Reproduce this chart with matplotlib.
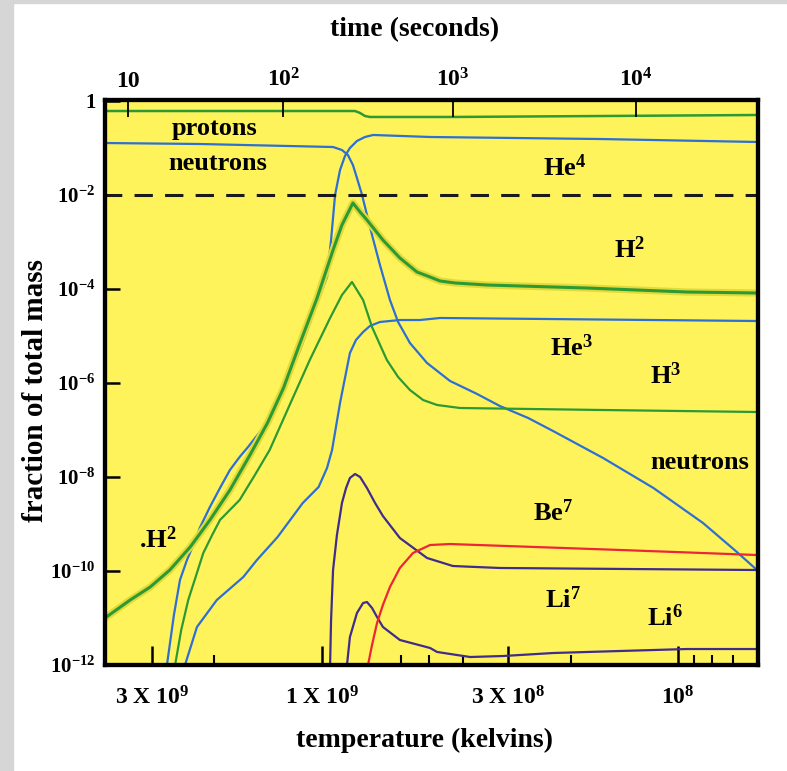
import matplotlib
matplotlib.use("Agg")
import matplotlib.pyplot as plt
import matplotlib.patheffects as pe
from matplotlib.patches import Rectangle
from matplotlib.ticker import FixedLocator, NullFormatter, NullLocator
import numpy as np

plt.rcParams['font.family'] = ['Liberation Serif', 'DejaVu Serif']
plt.rcParams['font.weight'] = 'bold'
plt.rcParams['mathtext.fontset'] = 'custom'
plt.rcParams['mathtext.rm'] = 'Liberation Serif:bold'
plt.rcParams['mathtext.it'] = 'Liberation Serif:bold'
plt.rcParams['mathtext.bf'] = 'Liberation Serif:bold'
plt.rcParams['mathtext.default'] = 'rm'

# temperature in units of 10^9 K, mass fraction as log10
protons_T = [4.06, 0.806, 0.780, 0.756, 0.732, 0.428, 0.0599]
protons_x = [-0.213, -0.213, -0.255, -0.319, -0.340, -0.340, -0.298]

neutrons_T = [4.06, 2.20, 0.929, 0.877, 0.844, 0.817, 0.796, 0.770, 0.746, 0.722,
              0.686, 0.643, 0.610, 0.565, 0.506, 0.436, 0.366, 0.316, 0.263, 0.224,
              0.162, 0.117, 0.0849, 0.0682, 0.0599]
neutrons_x = [-0.894, -0.915, -0.979, -1.043, -1.149, -1.362, -1.638, -2.0, -2.426, -2.851,
              -3.489, -4.234, -4.702, -5.149, -5.574, -5.957, -6.234, -6.489, -6.745, -7.021,
              -7.596, -8.234, -8.979, -9.596, -9.979]

he4_T = [2.79, 2.72, 2.60, 2.50, 2.39, 2.28, 2.20, 2.06, 1.93, 1.81, 1.70, 1.61, 1.53,
         1.46, 1.31, 1.15, 1.03, 0.966, 0.941, 0.917, 0.888, 0.860, 0.833, 0.796, 0.756,
         0.717, 0.496, 0.165, 0.0599]
he4_x = [-12.53, -12.0, -10.936, -10.191, -9.766, -9.404, -9.085, -8.638, -8.234, -7.851,
         -7.574, -7.362, -7.149, -6.957, -6.298, -5.298, -4.298, -3.745, -2.957, -2.0,
         -1.468, -1.170, -1.0, -0.851, -0.766, -0.723, -0.766, -0.809, -0.872]

h2_T = [4.06, 3.45, 3.03, 2.67, 2.34, 2.06, 1.81, 1.59, 1.42, 1.28, 1.15, 1.03, 0.929,
        0.877, 0.817, 0.780, 0.746, 0.673, 0.603, 0.540, 0.496, 0.465, 0.422, 0.343,
        0.180, 0.0942, 0.0599]
h2_x = [-11.0, -10.617, -10.340, -9.979, -9.489, -8.915, -8.277, -7.532, -6.851, -6.106,
        -5.149, -4.191, -3.170, -2.638, -2.170, -2.362, -2.532, -2.957, -3.340, -3.638,
        -3.745, -3.830, -3.872, -3.915, -3.979, -4.064, -4.085]

he3_T = [2.45, 2.42, 2.24, 1.97, 1.66, 1.52, 1.33, 1.13, 1.02, 0.966, 0.935, 0.888,
         0.833, 0.801, 0.765, 0.732, 0.686, 0.603, 0.530, 0.465, 0.0599]
he3_x = [-12.53, -12.0, -11.191, -10.617, -10.128, -9.766, -9.277, -8.553, -8.213, -7.809,
         -7.426, -6.426, -5.362, -5.085, -4.915, -4.787, -4.702, -4.660, -4.660, -4.617,
         -4.681]

h3_T = [2.63, 2.58, 2.48, 2.37, 2.25, 2.15, 2.03, 1.93, 1.70, 1.54, 1.40, 1.23, 1.08,
        0.947, 0.877, 0.822, 0.765, 0.722, 0.656, 0.610, 0.565, 0.519, 0.474, 0.409,
        0.165, 0.0599]
h3_x = [-12.53, -12.0, -11.255, -10.617, -10.085, -9.617, -9.234, -8.915, -8.489, -7.957,
        -7.426, -6.468, -5.511, -4.617, -4.128, -3.851, -4.234, -4.809, -5.511, -5.872,
        -6.149, -6.362, -6.468, -6.532, -6.574, -6.617]

li7_T = [0.954, 0.947, 0.941, 0.929, 0.906, 0.877, 0.854, 0.833, 0.806, 0.780, 0.746,
         0.708, 0.673, 0.603, 0.506, 0.428, 0.316, 0.0599]
li7_x = [-12.74, -12.0, -11.043, -9.979, -9.234, -8.553, -8.234, -8.021, -7.936, -8.0,
         -8.234, -8.553, -8.830, -9.298, -9.723, -9.894, -9.936, -9.979]

li6_T = [0.854, 0.849, 0.833, 0.796, 0.765, 0.746, 0.722, 0.699, 0.673, 0.603, 0.496,
         0.474, 0.383, 0.310, 0.224, 0.145, 0.0942, 0.0599]
li6_x = [-12.74, -12.0, -11.404, -10.894, -10.681, -10.660, -10.787, -10.979, -11.191,
         -11.468, -11.638, -11.723, -11.830, -11.809, -11.745, -11.702, -11.660, -11.660]

be7_T = [0.746, 0.741, 0.722, 0.699, 0.673, 0.643, 0.603, 0.554, 0.496, 0.436, 0.145, 0.0599]
be7_x = [-12.53, -12.0, -11.574, -11.106, -10.723, -10.340, -9.936, -9.617, -9.447,
         -9.426, -9.553, -9.660]

temp_ticks = [3, 1, 0.3, 0.1]
temp_labels = ['3 X 10$^{9}$', '1 X 10$^{9}$', '3 X 10$^{8}$', '10$^{8}$']
temp_minor = [2, 0.6, 0.5, 0.4, 0.2, 0.09, 0.08, 0.07]
time_ticks_T = [3.50, 1.28, 0.428, 0.131]
time_labels = ['10', '10$^{2}$', '10$^{3}$', '10$^{4}$']
frac_ticks = [1, 1e-2, 1e-4, 1e-6, 1e-8, 1e-10, 1e-12]
frac_labels = ['1', '10$^{-2}$', '10$^{-4}$', '10$^{-6}$', '10$^{-8}$', '10$^{-10}$', '10$^{-12}$']

GREEN = '#2c9a34'
BLUE = '#2d6fd2'
PURPLE = '#402c8c'
RED = '#ec2638'
YELLOW = '#fff35c'

fig = plt.figure(figsize=(7.87, 7.71), dpi=100)
fig.patches.append(Rectangle((0, 0), 13 / 787, 1, transform=fig.transFigure,
                             color='#d6d6d6', zorder=-5))
fig.patches.append(Rectangle((0, 1 - 3 / 771), 1, 3 / 771, transform=fig.transFigure,
                             color='#d6d6d6', zorder=-5))

ax = fig.add_axes([105 / 787, 1 - 665 / 771, 653 / 787, 565 / 771])
ax.set_facecolor(YELLOW)
ax.set_xscale('log')
ax.set_yscale('log')

def draw(T, lx, color, lw=1.6, halo=False):
    line, = ax.plot(T, 10 ** np.array(lx), color=color, lw=lw, solid_joinstyle='round')
    if halo:
        line.set_path_effects([pe.Stroke(linewidth=lw + 3, foreground='#e2da3a'), pe.Normal()])

draw(protons_T, protons_x, GREEN, 1.8)
draw(neutrons_T, neutrons_x, BLUE)
draw(he4_T, he4_x, BLUE)
draw(he3_T, he3_x, BLUE)
draw(h3_T, h3_x, GREEN)
draw(h2_T, h2_x, GREEN, 2.2, halo=True)
draw(li7_T, li7_x, PURPLE)
draw(li6_T, li6_x, PURPLE)
draw(be7_T, be7_x, RED)

ax.axhline(1e-2, color='#1a1a1a', lw=2.2, ls=(0.5, (6, 4)))

ax.set_xlim(4.06, 0.0595)
ax.set_ylim(1e-12, 1.05)

ax.xaxis.set_major_locator(FixedLocator(temp_ticks))
ax.set_xticklabels(temp_labels)
ax.xaxis.set_minor_locator(FixedLocator(temp_minor))
ax.xaxis.set_minor_formatter(NullFormatter())
ax.yaxis.set_major_locator(FixedLocator(frac_ticks))
ax.set_yticklabels(frac_labels)
ax.yaxis.set_minor_locator(NullLocator())

ax.tick_params(axis='x', which='major', direction='in', length=14, width=1.8,
               labelsize=17, pad=15, top=False)
ax.tick_params(axis='x', which='minor', direction='in', length=7, width=1.5, top=False)
ax.tick_params(axis='y', which='major', direction='in', length=11, width=1.8,
               labelsize=15, pad=7, right=False)
for s in ax.spines.values():
    s.set_linewidth(3)

ax2 = ax.twiny()
ax2.set_xscale('log')
ax2.set_xlim(ax.get_xlim())
ax2.xaxis.set_major_locator(FixedLocator(time_ticks_T))
ax2.set_xticklabels(time_labels)
ax2.xaxis.set_minor_locator(NullLocator())
ax2.tick_params(axis='x', direction='in', length=12, width=1.3, labelsize=17, pad=6)
for s in ax2.spines.values():
    s.set_linewidth(3)

fig.text(415 / 787, 1 - 30 / 771, 'time (seconds)', ha='center', va='center', fontsize=20)
fig.text(425 / 787, 1 - 740 / 771, 'temperature (kelvins)', ha='center', va='center',
         fontsize=20)
fig.text(36 / 787, 1 - 390 / 771, 'fraction of total mass', ha='center', va='center',
         rotation=90, fontsize=21)

labels = [
    ('protons', 0.168, 0.950),
    ('neutrons', 0.172, 0.888),
    ('He$^{4}$', 0.704, 0.880),
    ('H$^{2}$', 0.804, 0.735),
    ('He$^{3}$', 0.715, 0.561),
    ('H$^{3}$', 0.858, 0.513),
    ('neutrons', 0.911, 0.359),
    ('Be$^{7}$', 0.686, 0.269),
    ('.H$^{2}$', 0.081, 0.221),
    ('Li$^{7}$', 0.701, 0.115),
    ('Li$^{6}$', 0.858, 0.083),
]
for txt, x, y in labels:
    ax.text(x, y, txt, transform=ax.transAxes, ha='center', va='center', fontsize=19)

fig.savefig('out.png', dpi=100, facecolor='white')
